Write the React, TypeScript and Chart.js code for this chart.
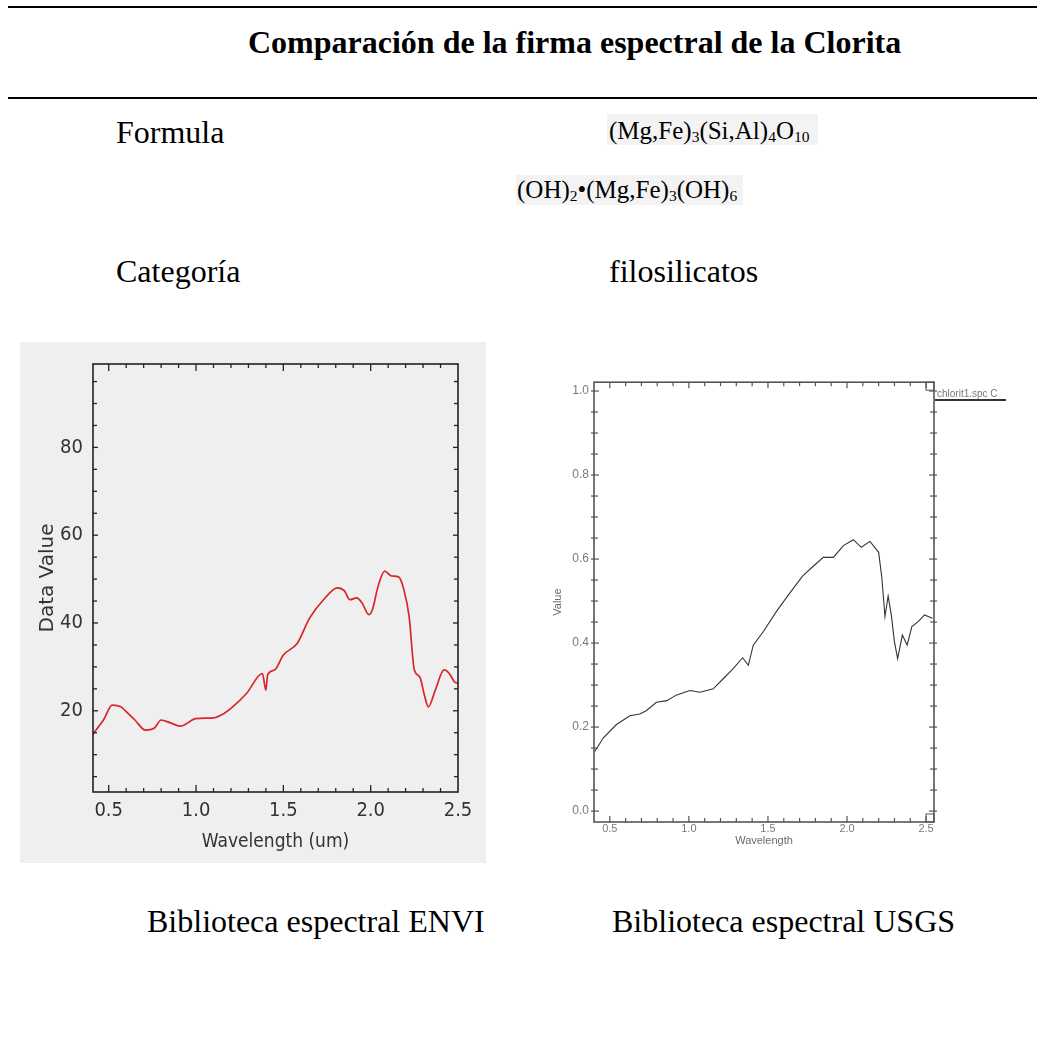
import React, { useEffect, useRef } from 'react';
import { Chart, registerables } from 'chart.js';

Chart.register(...registerables);

// ENVI library spectrum (Data Value vs wavelength in um)
const enviWavelength = [0.41, 0.42, 0.47, 0.52, 0.57, 0.6, 0.65, 0.71, 0.76, 0.8, 0.85, 0.91, 1.0, 1.1, 1.16, 1.21, 1.29, 1.38, 1.4, 1.41, 1.45, 1.5, 1.58, 1.65, 1.73, 1.81, 1.85, 1.88, 1.92, 1.95, 1.99, 2.01, 2.04, 2.08, 2.12, 2.16, 2.19, 2.22, 2.25, 2.28, 2.31, 2.33, 2.37, 2.42, 2.45, 2.48, 2.5];
const enviValue = [14.6, 15.2, 17.9, 21.3, 20.9, 19.8, 17.9, 15.6, 16, 17.9, 17.3, 16.5, 18.2, 18.4, 19.4, 20.9, 24, 28.5, 24.7, 28.2, 29.3, 32.7, 35.4, 41.1, 45.3, 48, 47.3, 45.3, 45.7, 44.6, 41.9, 43, 48, 51.8, 50.7, 50.5, 47.6, 41.5, 29.3, 27.8, 23.2, 20.9, 24.7, 29.3, 28.5, 26.6, 26.3];
const enviXTickLabels = ['0.5', '1.0', '1.5', '2.0', '2.5'];
const enviYTickLabels = ['20', '40', '60', '80'];

// USGS library spectrum (Value vs wavelength)
const usgsWavelength = [0.405, 0.458, 0.542, 0.627, 0.69, 0.73, 0.795, 0.86, 0.92, 1.006, 1.07, 1.154, 1.217, 1.28, 1.34, 1.376, 1.407, 1.47, 1.555, 1.64, 1.72, 1.79, 1.85, 1.914, 1.977, 2.04, 2.09, 2.145, 2.2, 2.22, 2.24, 2.26, 2.28, 2.3, 2.32, 2.35, 2.38, 2.41, 2.45, 2.49, 2.54];
const usgsValue = [0.142, 0.174, 0.206, 0.227, 0.231, 0.239, 0.259, 0.263, 0.276, 0.287, 0.283, 0.291, 0.315, 0.339, 0.365, 0.347, 0.395, 0.427, 0.476, 0.52, 0.56, 0.584, 0.604, 0.604, 0.632, 0.646, 0.628, 0.642, 0.616, 0.556, 0.463, 0.512, 0.467, 0.403, 0.363, 0.419, 0.395, 0.439, 0.451, 0.467, 0.459];
const usgsXTickLabels = ['0.5', '1.0', '1.5', '2.0', '2.5'];
const usgsYTickLabels = ['0.0', '0.2', '0.4', '0.6', '0.8', '1.0'];

const NARROW = "'Liberation Sans Narrow','DejaVu Sans Condensed','Arial Narrow',sans-serif";
const SANS = "'Liberation Sans',Arial,sans-serif";
const SERIF = "'Liberation Serif','Times New Roman',serif";

function isMultiple(v: number, step: number) {
  const r = v / step;
  return Math.abs(r - Math.round(r)) < 1e-6;
}

const boxTicks = {
  id: 'boxTicks',
  afterDatasetsDraw(chart: any, _args: any, o: any) {
    const { ctx, chartArea: a } = chart;
    const xs = chart.scales.x;
    const ys = chart.scales.y;
    ctx.save();
    ctx.strokeStyle = o.color;
    const seg = (x1: number, y1: number, x2: number, y2: number) => {
      ctx.beginPath();
      ctx.moveTo(x1, y1);
      ctx.lineTo(x2, y2);
      ctx.stroke();
    };
    ctx.lineWidth = o.tickWidth;
    for (const t of xs.ticks) {
      const p = xs.getPixelForValue(t.value);
      if (p < a.left + 2 || p > a.right - 2) continue;
      const len = isMultiple(t.value, o.xMajorStep) ? o.xMajorLen : o.xMinorLen;
      seg(p, a.bottom + o.xOut, p, a.bottom - len);
      seg(p, a.top - o.xOut, p, a.top + len);
    }
    for (const t of ys.ticks) {
      const p = ys.getPixelForValue(t.value);
      if (p > a.bottom - 2 || p < a.top + 2) continue;
      const len = isMultiple(t.value, o.yMajorStep) ? o.yMajorLen : o.yMinorLen;
      seg(a.left - o.yOut, p, a.left + len, p);
      seg(a.right + o.yOut, p, a.right - len, p);
    }
    if (o.corner > 0) {
      ctx.lineWidth = 1;
      ctx.strokeRect(a.right - o.corner, a.top, o.corner, o.corner);
      ctx.strokeRect(a.right - o.corner, a.bottom - o.corner, o.corner, o.corner);
    }
    ctx.lineWidth = o.boxWidth;
    ctx.strokeRect(a.left, a.top, a.right - a.left, a.bottom - a.top);
    ctx.restore();
  },
};

function enviConfig(): any {
  return {
    type: 'line',
    data: {
      datasets: [
        {
          data: enviWavelength.map((x, i) => ({ x, y: enviValue[i] })),
          borderColor: '#d7262b',
          borderWidth: 1.7,
          pointRadius: 0,
          cubicInterpolationMode: 'monotone',
          fill: false,
        },
      ],
    },
    plugins: [boxTicks],
    options: {
      responsive: false,
      animation: false,
      devicePixelRatio: 1,
      layout: { padding: { left: 0, top: 21, right: 28, bottom: 0 } },
      plugins: {
        legend: { display: false },
        tooltip: { enabled: false },
        boxTicks: {
          color: '#222', tickWidth: 1.3, boxWidth: 1.6,
          xMajorStep: 0.5, xMajorLen: 7, xMinorLen: 4, xOut: 0,
          yMajorStep: 20, yMajorLen: 5, yMinorLen: 4, yOut: 0, corner: 0,
        },
      },
      scales: {
        x: {
          type: 'linear', min: 0.41, max: 2.5,
          grid: { display: false, drawTicks: false },
          border: { display: false },
          ticks: {
            stepSize: 0.1, includeBounds: false, autoSkip: false, maxRotation: 0, minRotation: 0,
            padding: 7, color: '#333', font: { family: NARROW, size: 20 },
            callback: (v: any) => {
              const s = Number(v).toFixed(1);
              return isMultiple(Number(v), 0.5) && enviXTickLabels.includes(s) ? s : '';
            },
          },
          title: { display: true, text: 'Wavelength (um)', color: '#333', font: { family: NARROW, size: 19 }, padding: { top: 0, bottom: 10 } },
          afterFit: (s: any) => { s.height = 71; },
        },
        y: {
          type: 'linear', min: 1.5, max: 99,
          grid: { display: false, drawTicks: false },
          border: { display: false },
          ticks: {
            stepSize: 5, includeBounds: false, autoSkip: false,
            padding: 10, color: '#333', font: { family: NARROW, size: 20 },
            callback: (v: any) => {
              const s = String(Math.round(Number(v)));
              return isMultiple(Number(v), 20) && enviYTickLabels.includes(s) ? s : '';
            },
          },
          title: { display: true, text: 'Data Value', color: '#333', font: { family: "'DejaVu Sans',Verdana,sans-serif", size: 20 }, padding: { top: 16, bottom: 0 } },
          afterFit: (s: any) => { s.width = 73; },
        },
      },
    },
  };
}

function usgsConfig(): any {
  return {
    type: 'line',
    data: {
      datasets: [
        {
          data: usgsWavelength.map((x, i) => ({ x, y: usgsValue[i] })),
          borderColor: '#333',
          borderWidth: 1.1,
          pointRadius: 0,
          tension: 0,
          fill: false,
        },
      ],
    },
    plugins: [boxTicks],
    options: {
      responsive: false,
      animation: false,
      devicePixelRatio: 1,
      layout: { padding: { left: 0, top: 11, right: 103, bottom: 0 } },
      plugins: {
        legend: { display: false },
        tooltip: { enabled: false },
        boxTicks: {
          color: '#555', tickWidth: 1.2, boxWidth: 1.6,
          xMajorStep: 0.5, xMajorLen: 6, xMinorLen: 4, xOut: 0,
          yMajorStep: 0.2, yMajorLen: 5, yMinorLen: 4, yOut: 3, corner: 8,
        },
      },
      scales: {
        x: {
          type: 'linear', min: 0.4, max: 2.55,
          grid: { display: false, drawTicks: false },
          border: { display: false },
          ticks: {
            stepSize: 0.1, includeBounds: false, autoSkip: false, maxRotation: 0, minRotation: 0,
            padding: 0, color: '#7a7a7a', font: { family: SANS, size: 11 },
            callback: (v: any) => {
              const s = Number(v).toFixed(1);
              return isMultiple(Number(v), 0.5) && usgsXTickLabels.includes(s) ? s : '';
            },
          },
          title: { display: true, text: 'Wavelength', color: '#6a6a6a', font: { family: SANS, size: 11 }, padding: { top: 0, bottom: 12 } },
          afterFit: (s: any) => { s.height = 38; },
        },
        y: {
          type: 'linear', min: -0.026, max: 1.021,
          grid: { display: false, drawTicks: false },
          border: { display: false },
          ticks: {
            stepSize: 0.05, includeBounds: false, autoSkip: false,
            padding: 5, color: '#7a7a7a', font: { family: SANS, size: 12 },
            callback: (v: any) => {
              const s = Number(v).toFixed(1);
              return isMultiple(Number(v), 0.2) && usgsYTickLabels.includes(s) ? s : '';
            },
          },
          title: { display: true, text: 'Value', color: '#6a6a6a', font: { family: SANS, size: 11 }, padding: { top: 31, bottom: 0 } },
          afterFit: (s: any) => { s.width = 74; },
        },
      },
    },
  };
}

function ChartCanvas({ width, height, makeConfig }: { width: number; height: number; makeConfig: () => any }) {
  const ref = useRef<HTMLCanvasElement>(null);
  useEffect(() => {
    const chart = new Chart(ref.current as HTMLCanvasElement, makeConfig());
    return () => chart.destroy();
  }, []);
  return <canvas ref={ref} width={width} height={height} style={{ display: 'block', width, height }} />;
}

function Txt({ left, baseline, size, bold, children, color }: any) {
  return (
    <div
      style={{
        position: 'absolute',
        left,
        top: baseline - 0.8375 * size,
        fontSize: size,
        lineHeight: `${size}px`,
        fontWeight: bold ? 'bold' : 'normal',
        whiteSpace: 'nowrap',
        color: color || '#000',
      }}
    >
      {children}
    </div>
  );
}

const subStyle: React.CSSProperties = { fontSize: '0.62em', verticalAlign: '-0.22em', lineHeight: 0 };

export default function App() {
  useEffect(() => {
    document.body.style.margin = '0';
  }, []);
  return (
    <div style={{ position: 'relative', width: 1037, height: 1038, background: '#fff', fontFamily: SERIF, overflow: 'hidden' }}>
      <div style={{ position: 'absolute', left: 8, top: 6, width: 1029, height: 2, background: '#000' }} />
      <div style={{ position: 'absolute', left: 8, top: 97, width: 1029, height: 2, background: '#000' }} />
      <Txt left={248} baseline={53} size={32} bold>Comparación de la firma espectral de la Clorita</Txt>

      <Txt left={116} baseline={143} size={32}>Formula</Txt>
      <div style={{ position: 'absolute', left: 607, top: 114, width: 211, height: 31, background: '#f3f3f3' }} />
      <Txt left={609} baseline={139} size={25}>
        (Mg,Fe)<sub style={subStyle}>3</sub>(Si,Al)<sub style={subStyle}>4</sub>O<sub style={subStyle}>10</sub>
      </Txt>
      <div style={{ position: 'absolute', left: 516, top: 175, width: 227, height: 30, background: '#f3f3f3' }} />
      <Txt left={517} baseline={198} size={25}>
        (OH)<sub style={subStyle}>2</sub>•(Mg,Fe)<sub style={subStyle}>3</sub>(OH)<sub style={subStyle}>6</sub>
      </Txt>

      <Txt left={116} baseline={282} size={32}>Categoría</Txt>
      <Txt left={609} baseline={282} size={32}>filosilicatos</Txt>

      <div style={{ position: 'absolute', left: 20, top: 342, width: 466, height: 521, background: '#efefef' }}>
        <ChartCanvas width={466} height={521} makeConfig={enviConfig} />
      </div>

      <div style={{ position: 'absolute', left: 520, top: 370, width: 517, height: 490 }}>
        <ChartCanvas width={517} height={490} makeConfig={usgsConfig} />
      </div>
      <div style={{ position: 'absolute', left: 937, top: 388, fontFamily: SANS, fontSize: 10, lineHeight: '11px', color: '#777', whiteSpace: 'nowrap' }}>
        chlorit1.spc C
      </div>
      <div style={{ position: 'absolute', left: 935, top: 399, width: 71, height: 2, background: '#333' }} />

      <Txt left={147} baseline={932} size={32}>Biblioteca espectral ENVI</Txt>
      <Txt left={612} baseline={932} size={32}>Biblioteca espectral USGS</Txt>
    </div>
  );
}
